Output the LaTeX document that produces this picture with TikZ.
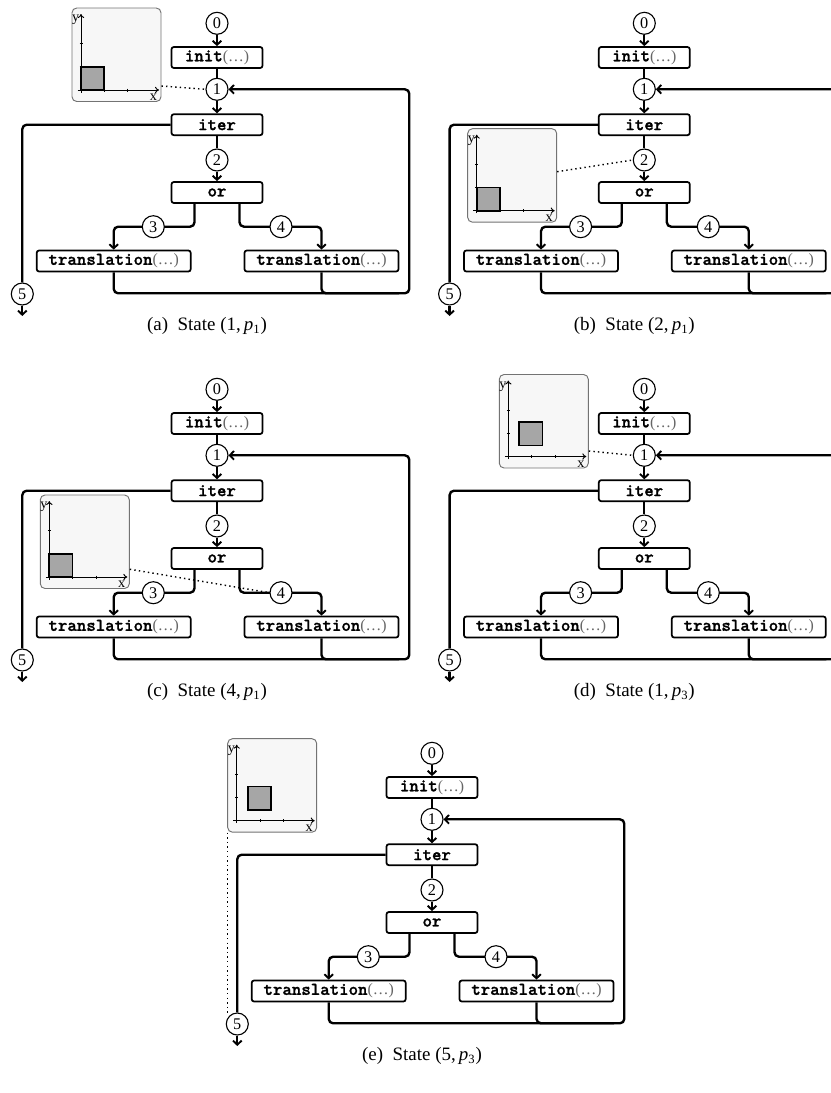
\documentclass[tikz,border=0pt]{standalone}
\usepackage{fontspec}
\setmainfont{Liberation Serif}
\newfontfamily\codefont{lmmonolt10-bold.otf}[FakeBold=1.3]
\usetikzlibrary{arrows.meta,backgrounds,calc}
\def\u{0.633pt}
\newcommand\dotsarg{\textcolor{black!60}{(\ldots)}}
\newcommand\codeword[1]{{\fontsize{11.4}{12}\codefont #1}}
\tikzset{
  flowbox/.style={draw, line width=1.1pt, rounded corners=1.5pt, fill=white, minimum height=21*\u, inner sep=0pt, font=\fontsize{10}{12}\selectfont},
  smallbox/.style={flowbox, minimum width=91*\u},
  widebox/.style={flowbox, minimum width=154*\u},
  statecirc/.style={circle, draw, line width=0.7pt, fill=white, minimum size=22*\u, inner sep=0pt, font=\fontsize{10.3}{12}\selectfont},
  conn/.style={line width=1.5pt, rounded corners=2.8pt},
  arr/.style={-{Straight Barb[length=2.6pt,width=5.5pt,line width=1.2pt]}},
  insetbox/.style={draw=black!55, line width=0.6pt, fill=black!3, rounded corners=3pt, inner sep=0pt},
  axis/.style={line width=0.6pt, -{To[length=2.5pt,width=4pt]}},
  tick/.style={line width=0.4pt},
  sq/.style={draw, line width=1.1pt, fill=black!35},
  link/.style={dotted, line width=0.9pt},
  captext/.style={font=\fontsize{12}{14}\selectfont},
  axlabel/.style={inner sep=0pt, font=\fontsize{9}{10}\selectfont}
}
\newcommand\flowpanel[4]{%
\begin{scope}[shift={(#2,#3)}]
 \node[statecirc] (#1c0) at (217,23.3) {0};
 \node[smallbox] (#1init) at (217,57.5) {\codeword{init}\dotsarg};
 \node[statecirc] (#1c1) at (217,89.3) {1};
 \node[smallbox] (#1iter) at (217,124.7) {\codeword{iter}};
 \node[statecirc] (#1c2) at (217,160) {2};
 \node[smallbox] (#1or) at (217,192.5) {\codeword{or}};
 \node[statecirc] (#1c3) at (153.3,226.7) {3};
 \node[statecirc] (#1c4) at (281,226.7) {4};
 \node[widebox] (#1trL) at (113.7,261) {\codeword{translation}\dotsarg};
 \node[widebox] (#1trR) at (321.5,261) {\codeword{translation}\dotsarg};
 \node[statecirc] (#1c5) at (22.3,294) {5};
 \coordinate (#1end) at (22.3,316);
 \coordinate (#1br) at (409.3,293.3);
 \coordinate (#1brm) at (399,293.3);
 \node[captext] (#1cap) at (207,326) {#4};
 \begin{pgfonlayer}{background}
  \draw[conn,arr] (#1c0.south) -- (#1init.north);
  \draw[conn] (#1init.south) -- (#1c1.north);
  \draw[conn,arr] (#1c1.south) -- (#1iter.north);
  \draw[conn] (#1iter.south) -- (#1c2.north);
  \draw[conn,arr] (#1c2.south) -- (#1or.north);
  \draw[conn,arr] ([xshift=-22.5*\u]#1or.south) |- (#1c3.center) -| (#1trL.north);
  \draw[conn,arr] ([xshift=22.5*\u]#1or.south) |- (#1c4.center) -| (#1trR.north);
  \draw[conn,arr] (#1trL.south) |- (#1br) |- (#1c1.east);
  \draw[conn] (#1trR.south) |- (#1brm);
  \draw[conn] (#1iter.west) -| (#1c5.north);
  \draw[conn,arr] (#1c5.south) -- (#1end);
 \end{pgfonlayer}
\end{scope}}
\newcommand\stateinset[5]{%
 \node[insetbox, minimum width=89*\u, minimum height=93.5*\u] (#1) at (#2+35.5,#3-35.25) {};
 \draw[axis] (#2-3.5,#3) -- (#2+78,#3);
 \draw[axis] (#2,#3+2.5) -- (#2,#3-76);
 \draw[tick] (#2+23.3,#3-1.5) -- (#2+23.3,#3+1.5);
 \draw[tick] (#2+46.6,#3-1.5) -- (#2+46.6,#3+1.5);
 \draw[tick] (#2-1.5,#3-23.3) -- (#2+1.5,#3-23.3);
 \draw[tick] (#2-1.5,#3-46.6) -- (#2+1.5,#3-46.6);
 \draw[sq] (#2+#4*23.3,#3-#5*23.3) rectangle (#2+#4*23.3+23.3,#3-#5*23.3-23.3);
 \node[axlabel] (#1ylab) at (#2-5.3,#3-70) {y};
 \node[axlabel] (#1xlab) at (#2+72.5,#3+7.3) {x};
}
\begin{document}
\begin{tikzpicture}[x=0.633pt,y=-0.633pt]
\useasboundingbox (0,0) rectangle (831,1093);
\clip (0,0) rectangle (831,1093);
\flowpanel{a-}{0}{0}{(a)\enspace State (1,\,\textit{p}\textsubscript{1})}
\flowpanel{b-}{427.3}{0}{(b)\enspace State (2,\,\textit{p}\textsubscript{1})}
\flowpanel{c-}{0}{366}{(c)\enspace State (4,\,\textit{p}\textsubscript{1})}
\flowpanel{d-}{427.3}{366}{(d)\enspace State (1,\,\textit{p}\textsubscript{3})}
\flowpanel{e-}{215}{730}{(e)\enspace State (5,\,\textit{p}\textsubscript{3})}
\stateinset{ia}{81}{90}{0}{0}
\stateinset{ib}{476.7}{210.7}{0}{0}
\stateinset{ic}{49.3}{577}{0}{0}
\stateinset{id}{508.3}{456.5}{0.47}{0.47}
\stateinset{ie}{236.7}{820.7}{0.47}{0.47}
\draw[link] ([yshift=-31.25*\u]ia.east) -- (a-c1.west);
\draw[link] ([yshift=3.75*\u]ib.east) -- (b-c2.west);
\draw[link] ([yshift=-27.5*\u]ic.east) -- (c-c4.west);
\draw[link] ([yshift=-29.75*\u]id.east) -- (d-c1.west);
\draw[link] (ie.south west) -- (ie.south west |- e-c5.north west);
\end{tikzpicture}
\end{document}
